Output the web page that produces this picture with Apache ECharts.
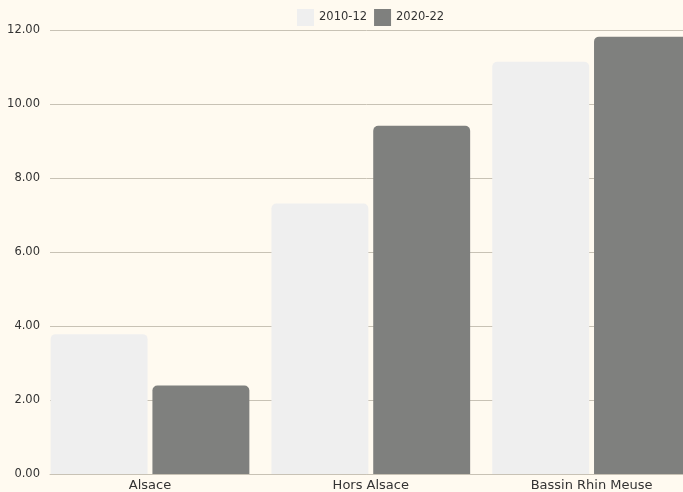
<!DOCTYPE html>
<html>
<head>
<meta charset="utf-8">
<script src="https://cdn.jsdelivr.net/npm/echarts@6/dist/echarts.min.js"></script>
<style>
html,body{margin:0;padding:0;background:#fffaf0;}
#c{width:683px;height:492px;}
</style>
</head>
<body>
<div id="c"></div>
<script>
const categories = ['Alsace', 'Hors Alsace', 'Bassin Rhin Meuse'];
const seriesNames = ['2010-12', '2020-22'];
const values2010 = [3.78, 7.31, 11.14];
const values2020 = [2.39, 9.41, 11.82];
const yMin = 0, yMax = 12, yStep = 2;

const FONT = 'DejaVu Sans';
const chart = echarts.init(document.getElementById('c'), null, {renderer: 'canvas'});
chart.setOption({
  backgroundColor: '#fffaf0',
  animation: false,
  textStyle: {fontFamily: FONT},
  legend: {
    top: 9, left: 297, padding: 0,
    icon: 'rect', itemWidth: 17, itemHeight: 17, itemGap: 7,
    textStyle: {fontFamily: FONT, fontSize: 11.5, color: '#333'},
    data: seriesNames
  },
  grid: [
    {left: 50, right: 0, top: 30, bottom: 18, containLabel: false, outerBoundsMode: 'none'},
    {left: 39.6, width: 662.4, top: 30, bottom: 18, containLabel: false, outerBoundsMode: 'none'}
  ],
  xAxis: [
    {gridIndex: 0, type: 'category', data: categories, axisLine: {lineStyle: {color: '#c8c2b5'}},
     axisTick: {show: false}, axisLabel: {show: false}},
    {gridIndex: 1, type: 'category', data: categories, axisLine: {show: false}, axisTick: {show: false},
     axisLabel: {color: '#333', fontSize: 13, margin: 5, fontFamily: FONT}}
  ],
  yAxis: [
    {gridIndex: 0, type: 'value', min: yMin, max: yMax, interval: yStep,
     axisLine: {show: false}, axisTick: {show: false},
     axisLabel: {margin: 10, color: '#333', fontSize: 11.5, fontFamily: FONT, formatter: v => v.toFixed(2)},
     splitLine: {lineStyle: {color: '#c8c2b5', width: 1}}},
    {gridIndex: 1, type: 'value', min: yMin, max: yMax, interval: yStep, show: false, splitLine: {show: false}}
  ],
  series: [
    {name: seriesNames[0], type: 'bar', xAxisIndex: 1, yAxisIndex: 1, data: values2010,
     barCategoryGap: '10%', barGap: '5%',
     itemStyle: {color: '#efefef', borderRadius: [5, 5, 0, 0]}},
    {name: seriesNames[1], type: 'bar', xAxisIndex: 1, yAxisIndex: 1, data: values2020,
     barCategoryGap: '10%', barGap: '5%',
     itemStyle: {color: '#7f807e', borderRadius: [5, 5, 0, 0]}}
  ]
});
</script>
</body>
</html>
